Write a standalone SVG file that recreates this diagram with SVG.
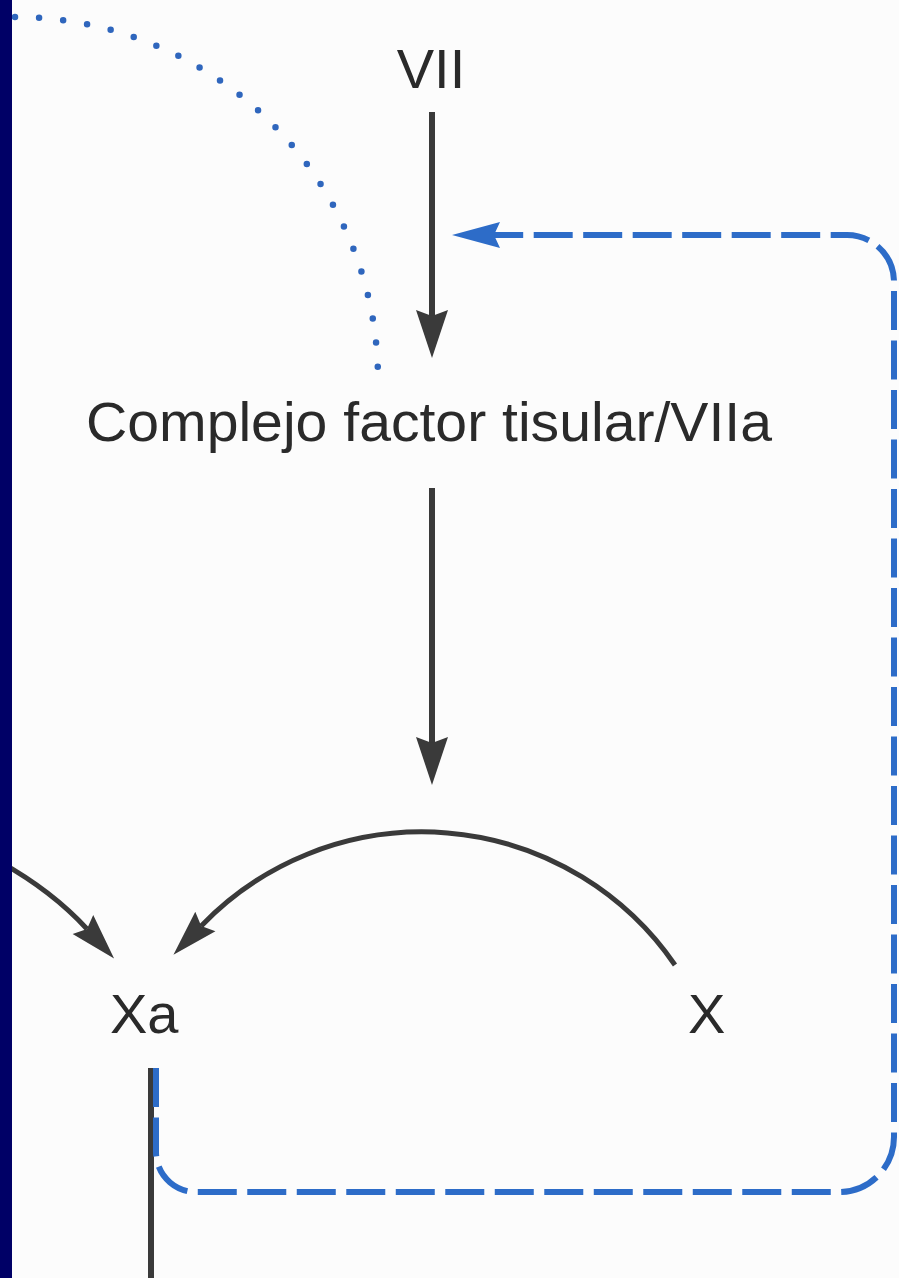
<svg xmlns="http://www.w3.org/2000/svg" width="899" height="1278" viewBox="0 0 899 1278">
  <style>
    .lbl { font-family: "Liberation Sans", Arial, sans-serif; font-size: 56px; fill: #2a2a2a; }
    .blk { fill: none; stroke: #3a3a3a; stroke-width: 6; }
    .crv { fill: none; stroke: #3a3a3a; stroke-width: 5; }
    .blue { fill: none; stroke: #2d6cc8; stroke-width: 6; stroke-dasharray: 39 10.5; }
    .dots { fill: none; stroke: #2f66bd; stroke-width: 6.5; stroke-linecap: round; stroke-dasharray: 0 24.2; }
  </style>
  <defs>
    <marker id="headBlack" markerUnits="userSpaceOnUse" markerWidth="60" markerHeight="40" refX="0" refY="0" orient="auto" overflow="visible">
      <path d="M 42 0 L -6 -16 L 0 0 L -6 16 Z" fill="#3a3a3a"/>
    </marker>
    <marker id="headCurve" markerUnits="userSpaceOnUse" markerWidth="60" markerHeight="40" refX="0" refY="0" orient="auto" overflow="visible">
      <path d="M 40 0 L -6 -14 L 0 0 L -6 14 Z" fill="#3a3a3a"/>
    </marker>
    <marker id="headBlue" markerUnits="userSpaceOnUse" markerWidth="60" markerHeight="40" refX="0" refY="0" orient="auto" overflow="visible">
      <path d="M 42 0 L -6 -13 L 0 0 L -6 13 Z" fill="#2d6cc8"/>
    </marker>
  </defs>

  <rect x="0" y="0" width="899" height="1278" fill="#fcfcfc"/>

  <g id="connectors">
    <path class="dots" d="M 15 17 A 363 363 0 0 1 378 380"/>
    <path class="blk" d="M 432 112 L 432 316" marker-end="url(#headBlack)"/>
    <path class="blk" d="M 432 488 L 432 743" marker-end="url(#headBlack)"/>
    <path class="crv" d="M 675 965 A 306.7 306.7 0 0 0 201.2 925.9" marker-end="url(#headCurve)"/>
    <path class="crv" d="M 0 862 Q 52 891 87 929" marker-end="url(#headCurve)"/>
    <path class="blk" d="M 151 1068 L 151 1278"/>
    <path class="blue" d="M 156 1068 L 156 1152 A 40 40 0 0 0 196 1192 L 839 1192 A 55 55 0 0 0 894 1137 L 894 282 A 47 47 0 0 0 847 235 L 494 235" marker-end="url(#headBlue)"/>
  </g>

  <g id="node-VII"><text class="lbl" x="431" y="88" text-anchor="middle">VII</text></g>
  <g id="node-complejo"><text class="lbl" x="86" y="441" textLength="686" lengthAdjust="spacingAndGlyphs">Complejo factor tisular/VIIa</text></g>
  <g id="node-Xa"><text class="lbl" x="110" y="1033">Xa</text></g>
  <g id="node-X"><text class="lbl" x="688" y="1033">X</text></g>

  <rect x="0" y="0" width="12" height="1278" fill="#000066"/>
</svg>
